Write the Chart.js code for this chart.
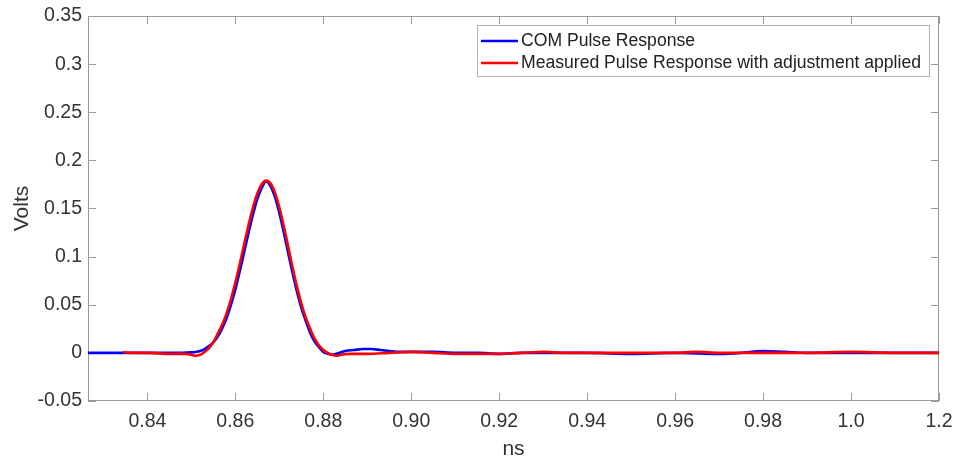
<!DOCTYPE html>
<html>
<head>
<meta charset="utf-8">
<title>Pulse Response</title>
<script src="https://cdn.jsdelivr.net/npm/chart.js@4/dist/chart.umd.min.js"></script>
<style>
  body { margin: 0; background: #fff; }
  canvas { display: block; }
</style>
</head>
<body>
<canvas id="pulseChart" width="953" height="459"></canvas>
<script>
// COM pulse response (ns, V)
const comX = [0.8265, 0.835, 0.845, 0.848, 0.850, 0.851, 0.852, 0.853, 0.854, 0.855, 0.856, 0.857, 0.858, 0.859,
  0.860, 0.861, 0.862, 0.863, 0.864, 0.865, 0.866, 0.867, 0.868, 0.869, 0.870, 0.871, 0.872, 0.873,
  0.874, 0.875, 0.876, 0.877, 0.878, 0.879, 0.880, 0.881, 0.882, 0.883, 0.885, 0.887, 0.889, 0.891,
  0.893, 0.895, 0.897, 0.900, 0.905, 0.910, 0.915, 0.920, 0.925, 0.930, 0.940, 0.950, 0.960, 0.970,
  0.975, 0.980, 0.985, 0.990, 1.000, 1.010, 1.020];
const comY = [0, 0, 0, 0, 0.0005, 0.001, 0.002, 0.004, 0.007, 0.011, 0.017, 0.0255, 0.036, 0.050,
  0.066, 0.0846, 0.1045, 0.1247, 0.1436, 0.1597, 0.1713, 0.178, 0.1732, 0.162, 0.1455, 0.1257, 0.1043, 0.0832,
  0.0638, 0.047, 0.0333, 0.021, 0.012, 0.006, 0.001, -0.001, -0.002, -0.001, 0.002, 0.003, 0.004, 0.004,
  0.003, 0.002, 0.001, 0.001, 0.001, 0.000, 0.000, -0.001, 0.000, 0.000, 0.000, -0.001, 0.000, -0.001,
  0.000, 0.002, 0.001, 0.000, 0.000, 0.000, 0.000];

// measured pulse response after adjustment (ns, V)
const measX = [0.8345, 0.836, 0.840, 0.845, 0.848, 0.849, 0.850, 0.851, 0.852, 0.853, 0.854, 0.855, 0.856, 0.857,
  0.858, 0.859, 0.860, 0.861, 0.862, 0.863, 0.864, 0.865, 0.866, 0.867, 0.868, 0.869, 0.870, 0.871,
  0.872, 0.873, 0.874, 0.875, 0.876, 0.877, 0.878, 0.879, 0.880, 0.881, 0.882, 0.883, 0.884, 0.886,
  0.890, 0.895, 0.900, 0.905, 0.910, 0.915, 0.920, 0.925, 0.930, 0.935, 0.940, 0.950, 0.960, 0.965,
  0.970, 0.980, 0.990, 1.000, 1.010, 1.020];
const measY = [0.001, 0.000, 0.000, -0.001, -0.001, -0.001, -0.002, -0.003, -0.002, 0.001, 0.005, 0.011, 0.020, 0.0291,
  0.041, 0.0557, 0.073, 0.0923, 0.1127, 0.1327, 0.1509, 0.1655, 0.1752, 0.179, 0.1761, 0.1665, 0.1513, 0.1321,
  0.1107, 0.0892, 0.0691, 0.0514, 0.0367, 0.0252, 0.015, 0.008, 0.003, 0.000, -0.002, -0.003, -0.002, -0.001,
  -0.001, 0.000, 0.001, 0.000, -0.001, -0.001, -0.001, 0.000, 0.001, 0.000, 0.000, 0.000, 0.000, 0.001,
  0.000, 0.000, 0.000, 0.001, 0.000, 0.000];

const xTickValues = [0.84, 0.86, 0.88, 0.90, 0.92, 0.94, 0.96, 0.98, 1.00, 1.02];
const xTickLabels = ["0.84", "0.86", "0.88", "0.90", "0.92", "0.94", "0.96", "0.98", "1.0", "1.2"];
const yTickValues = [-0.05, 0, 0.05, 0.1, 0.15, 0.2, 0.25, 0.3, 0.35];
const yTickLabels = ["-0.05", "0", "0.05", "0.1", "0.15", "0.2", "0.25", "0.3", "0.35"];

const seriesNames = ["COM Pulse Response", "Measured Pulse Response with adjustment applied"];

const axisColor = "#9a9a9a";
const textColor = "#333";
const fontFamily = "'Liberation Sans', Arial, Helvetica, sans-serif";

const toPoints = (xs, ys) => xs.map((x, i) => ({ x, y: ys[i] }));

// box around the plot with inward ticks on every side
const frameTicks = {
  id: "frameTicks",
  beforeDatasetsDraw(chart) {
    const { ctx, chartArea: a, scales } = chart;
    const len = 8;
    ctx.save();
    ctx.strokeStyle = axisColor;
    ctx.lineWidth = 1;
    ctx.strokeRect(a.left + 0.5, a.top + 0.5, a.width - 1, a.height - 1);
    ctx.beginPath();
    xTickValues.forEach((v) => {
      const px = Math.round(scales.x.getPixelForValue(v)) + 0.5;
      ctx.moveTo(px, a.bottom);
      ctx.lineTo(px, a.bottom - len);
      ctx.moveTo(px, a.top);
      ctx.lineTo(px, a.top + len);
    });
    yTickValues.forEach((v) => {
      const py = Math.round(scales.y.getPixelForValue(v)) + 0.5;
      ctx.moveTo(a.left, py);
      ctx.lineTo(a.left + len, py);
      ctx.moveTo(a.right, py);
      ctx.lineTo(a.right - len, py);
    });
    ctx.stroke();
    ctx.restore();
  },
};

// legend box in the upper right of the plot
const boxLegend = {
  id: "boxLegend",
  afterDraw(chart) {
    const { ctx, chartArea: a } = chart;
    const right = a.right - 10;
    const left = right - 452;
    const top = a.top + 9;
    const rowH = 22;
    ctx.save();
    ctx.fillStyle = "#fff";
    ctx.fillRect(left, top, right - left, 51);
    ctx.strokeStyle = "#b0b0b0";
    ctx.lineWidth = 1;
    ctx.strokeRect(left + 0.5, top + 0.5, right - left, 51);
    ctx.font = "17.6px " + fontFamily;
    ctx.textBaseline = "middle";
    chart.data.datasets.forEach((ds, i) => {
      const cy = top + 16 + i * rowH;
      ctx.strokeStyle = ds.borderColor;
      ctx.lineWidth = 2.6;
      ctx.beginPath();
      ctx.moveTo(left + 4, cy);
      ctx.lineTo(left + 41, cy);
      ctx.stroke();
      ctx.fillStyle = "#222";
      ctx.fillText(ds.label, left + 44, cy);
    });
    ctx.restore();
  },
};

new Chart(document.getElementById("pulseChart"), {
  type: "line",
  data: {
    datasets: [
      {
        label: seriesNames[0],
        data: toPoints(comX, comY),
        borderColor: "#0000ff",
        borderWidth: 2.6,
        pointRadius: 0,
        cubicInterpolationMode: "monotone",
        order: 1,
      },
      {
        label: seriesNames[1],
        data: toPoints(measX, measY),
        borderColor: "#ff0000",
        borderWidth: 2.6,
        pointRadius: 0,
        cubicInterpolationMode: "monotone",
        order: 0,
      },
    ],
  },
  options: {
    responsive: false,
    animation: false,
    layout: { padding: { top: 16, right: 14, left: 0, bottom: 0 } },
    plugins: {
      legend: { display: false },
      tooltip: { enabled: false },
    },
    scales: {
      x: {
        type: "linear",
        min: 0.8265,
        max: 1.02,
        afterFit: (scale) => {
          scale.height = 58;
          scale.paddingLeft = 0;
          scale.paddingRight = 0;
        },
        afterBuildTicks: (scale) => {
          scale.ticks = xTickValues.map((v) => ({ value: v }));
        },
        ticks: {
          color: textColor,
          font: { size: 19.5, family: fontFamily },
          padding: 9,
          maxRotation: 0,
          autoSkip: false,
          callback: (v, i) => xTickLabels[i],
        },
        grid: { display: false, drawTicks: false },
        border: { display: false },
        title: {
          display: true,
          text: "ns",
          color: textColor,
          font: { size: 21, family: fontFamily },
          padding: { top: 0, bottom: -3 },
        },
      },
      y: {
        min: -0.05,
        max: 0.35,
        afterFit: (scale) => {
          scale.width = 88;
          scale.paddingTop = 0;
          scale.paddingBottom = 0;
        },
        afterBuildTicks: (scale) => {
          scale.ticks = yTickValues.map((v) => ({ value: v }));
        },
        ticks: {
          color: textColor,
          font: { size: 19.5, family: fontFamily },
          padding: 6,
          autoSkip: false,
          callback: (v, i) => yTickLabels[i],
        },
        grid: { display: false, drawTicks: false },
        border: { display: false },
        title: {
          display: true,
          text: "Volts",
          color: textColor,
          font: { size: 21, family: fontFamily },
          padding: { top: 10, bottom: 0 },
        },
      },
    },
  },
  plugins: [frameTicks, boxLegend],
});
</script>
</body>
</html>
